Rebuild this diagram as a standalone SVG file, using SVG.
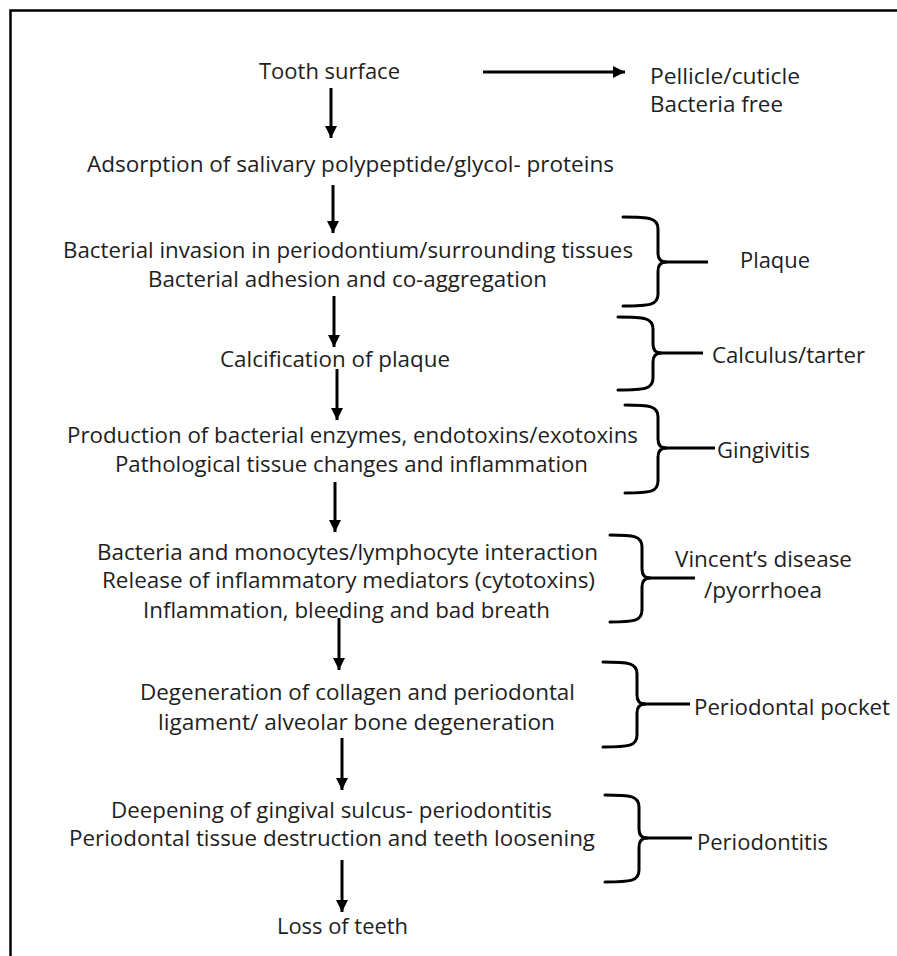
<svg xmlns="http://www.w3.org/2000/svg" width="897" height="956" viewBox="0 0 897 956">
<defs>
<style>
text{font-family:"Open Sans","Noto Sans","Liberation Sans",sans-serif;font-size:21px;fill:#1e1e1e;}
.ln{stroke:#000;stroke-width:3;fill:none;}
.br{stroke:#000;stroke-width:3;fill:none;stroke-linecap:round;stroke-linejoin:round;}
.frame{stroke:#000;stroke-width:2.5;fill:none;}
</style>
<marker id="ah" viewBox="0 0 12 12" refX="12" refY="6" markerWidth="12" markerHeight="12" markerUnits="userSpaceOnUse" orient="auto">
<path d="M0,0 L12,6 L0,12 Z" fill="#000"/>
</marker>
</defs>
<rect width="897" height="956" fill="#fff"/>
<path class="frame" d="M10.5,956 V10.5 H897"/>

<g id="connectors">
<line class="ln" x1="483" y1="72" x2="625" y2="72" marker-end="url(#ah)"/>
<line class="ln" x1="331" y1="88" x2="331" y2="138" marker-end="url(#ah)"/>
<line class="ln" x1="333" y1="185" x2="333" y2="233" marker-end="url(#ah)"/>
<line class="ln" x1="334" y1="296" x2="334" y2="347" marker-end="url(#ah)"/>
<line class="ln" x1="337" y1="369" x2="337" y2="420" marker-end="url(#ah)"/>
<line class="ln" x1="335" y1="482" x2="335" y2="532" marker-end="url(#ah)"/>
<line class="ln" x1="339" y1="618" x2="339" y2="670" marker-end="url(#ah)"/>
<line class="ln" x1="342" y1="738" x2="342" y2="790" marker-end="url(#ah)"/>
<line class="ln" x1="342" y1="860" x2="342" y2="912" marker-end="url(#ah)"/>
</g>

<g id="n-tooth"><text x="259" y="79" textLength="141" lengthAdjust="spacingAndGlyphs">Tooth surface</text></g>
<g id="n-pellicle">
<text x="650" y="84" textLength="150" lengthAdjust="spacingAndGlyphs">Pellicle/cuticle</text>
<text x="650" y="112" textLength="133" lengthAdjust="spacingAndGlyphs">Bacteria free</text>
</g>
<g id="n-adsorption"><text x="87" y="172" textLength="527" lengthAdjust="spacingAndGlyphs">Adsorption of salivary polypeptide/glycol- proteins</text></g>
<g id="n-invasion">
<text x="63" y="258" textLength="570" lengthAdjust="spacingAndGlyphs">Bacterial invasion in periodontium/surrounding tissues</text>
<text x="148" y="287" textLength="399" lengthAdjust="spacingAndGlyphs">Bacterial adhesion and co-aggregation</text>
</g>
<g id="n-calcification"><text x="220" y="367" textLength="230" lengthAdjust="spacingAndGlyphs">Calcification of plaque</text></g>
<g id="n-production">
<text x="67" y="443" textLength="571" lengthAdjust="spacingAndGlyphs">Production of bacterial enzymes, endotoxins/exotoxins</text>
<text x="115" y="472" textLength="473" lengthAdjust="spacingAndGlyphs">Pathological tissue changes and inflammation</text>
</g>
<g id="n-bacteria">
<text x="97" y="560" textLength="501" lengthAdjust="spacingAndGlyphs">Bacteria and monocytes/lymphocyte interaction</text>
<text x="102" y="588" textLength="493" lengthAdjust="spacingAndGlyphs">Release of inflammatory mediators (cytotoxins)</text>
<text x="143" y="618" textLength="407" lengthAdjust="spacingAndGlyphs">Inflammation, bleeding and bad breath</text>
</g>
<g id="n-degeneration">
<text x="140" y="700" textLength="435" lengthAdjust="spacingAndGlyphs">Degeneration of collagen and periodontal</text>
<text x="158" y="730" textLength="397" lengthAdjust="spacingAndGlyphs">ligament/ alveolar bone degeneration</text>
</g>
<g id="n-deepening">
<text x="111" y="818" textLength="441" lengthAdjust="spacingAndGlyphs">Deepening of gingival sulcus- periodontitis</text>
<text x="69" y="846" textLength="526" lengthAdjust="spacingAndGlyphs">Periodontal tissue destruction and teeth loosening</text>
</g>
<g id="n-loss"><text x="277" y="934" textLength="131" lengthAdjust="spacingAndGlyphs">Loss of teeth</text></g>

<g id="b-plaque">
<path class="br" d="M623,217 C650,217 658,218 658,229 L658,253 C658,259 661,262 666,262 C661,262 658,265 658,271 L658,294 C658,305 650,306 623,306"/>
<line class="ln" x1="664" y1="262" x2="708" y2="262"/>
<text x="740" y="268" textLength="70" lengthAdjust="spacingAndGlyphs">Plaque</text>
</g>
<g id="b-calculus">
<path class="br" d="M618,317 C645,317 653,318 653,329 L653,344 C653,350 656,353 661,353 C656,353 653,356 653,362 L653,378 C653,389 645,390 618,390"/>
<line class="ln" x1="659" y1="353" x2="703" y2="353"/>
<text x="712" y="363" textLength="153" lengthAdjust="spacingAndGlyphs">Calculus/tarter</text>
</g>
<g id="b-gingivitis">
<path class="br" d="M625,405 C650,405 658,406 658,417 L658,439 C658,445 661,448 666,448 C661,448 658,451 658,457 L658,481 C658,492 650,493 625,493"/>
<line class="ln" x1="664" y1="448" x2="715" y2="448"/>
<text x="717" y="458" textLength="93" lengthAdjust="spacingAndGlyphs">Gingivitis</text>
</g>
<g id="b-vincent">
<path class="br" d="M610,535 C634,535 642,536 642,547 L642,569 C642,575 645,578 650,578 C645,578 642,581 642,587 L642,610 C642,621 634,622 610,622"/>
<line class="ln" x1="648" y1="578" x2="695" y2="578"/>
<text x="675" y="567" textLength="177" lengthAdjust="spacingAndGlyphs">Vincent’s disease</text>
<text x="704" y="598" textLength="118" lengthAdjust="spacingAndGlyphs">/pyorrhoea</text>
</g>
<g id="b-pocket">
<path class="br" d="M603,662 C629,662 637,663 637,674 L637,695 C637,701 640,704 645,704 C640,704 637,707 637,713 L637,735 C637,746 629,747 603,747"/>
<line class="ln" x1="643" y1="704" x2="690" y2="704"/>
<text x="694" y="715" textLength="196" lengthAdjust="spacingAndGlyphs">Periodontal pocket</text>
</g>
<g id="b-periodontitis">
<path class="br" d="M605,795 C631,795 639,796 639,807 L639,829 C639,835 642,838 647,838 C642,838 639,841 639,847 L639,870 C639,881 631,882 605,882"/>
<line class="ln" x1="645" y1="838" x2="692" y2="838"/>
<text x="697" y="850" textLength="131" lengthAdjust="spacingAndGlyphs">Periodontitis</text>
</g>
</svg>
